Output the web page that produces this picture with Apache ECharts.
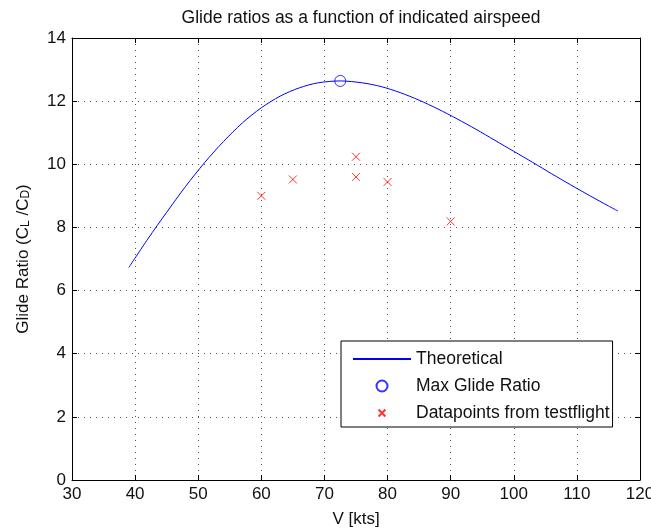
<!DOCTYPE html>
<html>
<head>
<meta charset="utf-8">
<script src="https://cdn.jsdelivr.net/npm/echarts@6/dist/echarts.min.js"></script>
<style>html,body{margin:0;padding:0;background:#fff;}#c{width:651px;height:532px;}</style>
</head>
<body>
<div id="c"></div>
<script>
// Theoretical glide-ratio curve (V kts, L/D)
var theoV  = [39, 42, 45, 48, 51, 54, 57, 60, 63, 66, 69, 72.5, 76, 79, 82, 85, 88, 91, 94, 97, 100, 103, 106, 109, 112, 115, 116.5];
var theoLD = [6.73, 7.63, 8.48, 9.30, 10.05, 10.72, 11.31, 11.79, 12.16, 12.42, 12.58, 12.64, 12.58, 12.46, 12.27, 12.03, 11.75, 11.44, 11.11, 10.76, 10.41, 10.06, 9.70, 9.35, 9.01, 8.68, 8.52];
// Max glide ratio
var maxV  = [72.5];
var maxLD = [12.64];
// Test-flight data points
var testV  = [60, 65, 75, 75, 80, 90];
var testLD = [9.0, 9.52, 10.24, 9.6, 9.44, 8.19];
// Axis ticks [min, max, step]
var xTicks = [30, 120, 10];
var yTicks = [0, 14, 2];

function pairs(a, b) { return a.map(function (v, i) { return [v, b[i]]; }); }

var FONT = 'Liberation Sans, Arial, Helvetica, sans-serif';
var TXT = '#111';
var chart = echarts.init(document.getElementById('c'), null, {renderer: 'canvas'});

function boxAxis(pos, t, main) {
  return {
    type: 'value', min: t[0], max: t[1], interval: t[2], position: pos,
    axisLine: {show: true, onZero: false, lineStyle: {color: '#000', width: 1}},
    axisTick: {show: true, inside: true, length: 5, lineStyle: {color: '#000'}},
    axisLabel: {show: main, color: TXT, fontSize: 17, fontFamily: FONT},
    splitLine: {show: main, lineStyle: {color: '#555', type: [1, 5], width: 1}}
  };
}

var xMain = boxAxis('bottom', xTicks, true);
xMain.axisLabel.margin = 6;
xMain.name = 'V [kts]';
xMain.nameLocation = 'middle';
xMain.nameGap = 31;
xMain.nameTextStyle = {fontSize: 17, fontFamily: FONT, color: TXT};
var xTop = boxAxis('top', xTicks, false);

var yMain = boxAxis('left', yTicks, true);
yMain.axisLabel.margin = 6;
yMain.name = '{a|Glide Ratio (C}{s|L}{a| /C}{s|D}{a|)}';
yMain.nameLocation = 'middle';
yMain.nameGap = 40;
yMain.nameRotate = 90;
yMain.nameTextStyle = {
  fontFamily: FONT, color: TXT,
  rich: {
    a: {fontSize: 17, fontFamily: FONT, color: TXT, verticalAlign: 'top', lineHeight: 17},
    s: {fontSize: 12, fontFamily: FONT, color: TXT, verticalAlign: 'bottom', lineHeight: 12, padding: [11, 0, 0, 0]}
  }
};
var yRight = boxAxis('right', yTicks, false);

chart.setOption({
  animation: false,
  backgroundColor: '#fff',
  title: {
    text: 'Glide ratios as a function of indicated airspeed',
    left: 356, textAlign: 'center', top: 4,
    textStyle: {fontSize: 17.5, fontWeight: 'normal', fontFamily: FONT, color: TXT}
  },
  grid: {left: 72, top: 38, width: 568, height: 442, containLabel: false, outerBoundsMode: 'none'},
  xAxis: [xMain, xTop],
  yAxis: [yMain, yRight],
  legend: {
    orient: 'vertical', left: 341, top: 341,
    backgroundColor: '#fff', borderColor: '#000', borderWidth: 1, borderRadius: 0,
    padding: [9, 3, 5, 11], itemGap: 9, itemWidth: 58, itemHeight: 11,
    textStyle: {fontSize: 17.5, fontFamily: FONT, color: TXT},
    data: [
      {name: 'Theoretical', itemStyle: {opacity: 0}},
      {name: 'Max Glide Ratio'},
      {name: 'Datapoints from testflight', icon: 'path://M-3,-3M0,0L10,10M10,0L0,10M13,13'}
    ]
  },
  series: [
    {
      name: 'Theoretical', type: 'line', smooth: 0.3, symbol: 'none',
      lineStyle: {color: '#0000ff', width: 1}, itemStyle: {color: '#0000ff'},
      data: pairs(theoV, theoLD), z: 2
    },
    {
      name: 'Max Glide Ratio', type: 'scatter', symbol: 'circle', symbolSize: 11,
      itemStyle: {color: 'rgba(0,0,0,0)', borderColor: '#0000ff', borderWidth: 1},
      data: pairs(maxV, maxLD), z: 3
    },
    {
      name: 'Datapoints from testflight', type: 'scatter',
      symbol: 'path://M0,0L10,10M10,0L0,10', symbolSize: 8,
      itemStyle: {color: 'rgba(0,0,0,0)', borderColor: '#ff0000', borderWidth: 1},
      data: pairs(testV, testLD), z: 3
    }
  ]
});
</script>
</body>
</html>
